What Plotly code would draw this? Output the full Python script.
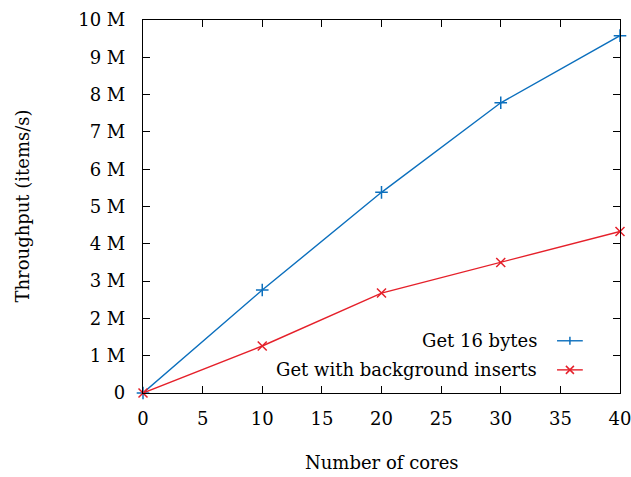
import plotly.graph_objects as go

cores = [0, 10, 20, 30, 40]
get16 = [0, 2.76e6, 5.38e6, 7.78e6, 9.58e6]
get_bg = [0, 1.26e6, 2.68e6, 3.50e6, 4.33e6]
names = ["Get 16 bytes", "Get with background inserts"]
xticks = [0, 5, 10, 15, 20, 25, 30, 35, 40]
yticks = [i * 1e6 for i in range(11)]
yticktext = ["0"] + [f"{i} M" for i in range(1, 11)]

BLUE = "#0b6fbd"
RED = "#e5202a"
FONT = "DejaVu Serif"
FS = 18

PW, PH = 477, 373  # plot area size in px

fig = go.Figure()
fig.add_trace(go.Scatter(x=cores, y=get16, mode="lines+markers", name=names[0],
                         line=dict(color=BLUE, width=1.4),
                         marker=dict(symbol="cross-thin", size=9, line=dict(color=BLUE, width=1.5)),
                         cliponaxis=False, showlegend=False))
fig.add_trace(go.Scatter(x=cores, y=get_bg, mode="lines+markers", name=names[1],
                         line=dict(color=RED, width=1.4),
                         marker=dict(symbol="x-thin", size=9, line=dict(color=RED, width=1.5)),
                         cliponaxis=False, showlegend=False))

# custom legend (text right-aligned, sample on the right, gnuplot style)
rows = [(names[0], BLUE, "+", 0.140), (names[1], RED, "x", 0.062)]
for text, col, sym, yp in rows:
    fig.add_annotation(xref="paper", yref="paper", x=0.830, y=yp, text=text,
                       showarrow=False, xanchor="right", yanchor="middle",
                       font=dict(family=FONT, size=FS, color="black"))
    fig.add_shape(type="line", xref="paper", yref="paper", x0=0.868, x1=0.922, y0=yp, y1=yp,
                  line=dict(color=col, width=1.4))
    cx = 0.895
    dx = 4 / PW
    dy = 4 / PH
    if sym == "+":
        fig.add_shape(type="line", xref="paper", yref="paper", x0=cx, x1=cx, y0=yp - dy, y1=yp + dy,
                      line=dict(color=col, width=1.5))
    else:
        fig.add_shape(type="line", xref="paper", yref="paper", x0=cx - dx, x1=cx + dx, y0=yp - dy, y1=yp + dy,
                      line=dict(color=col, width=1.5))
        fig.add_shape(type="line", xref="paper", yref="paper", x0=cx - dx, x1=cx + dx, y0=yp + dy, y1=yp - dy,
                      line=dict(color=col, width=1.5))

# axis titles
fig.add_annotation(xref="paper", yref="paper", x=0.5, y=-70 / PH, text="Number of cores",
                   showarrow=False, xanchor="center", yanchor="middle",
                   font=dict(family=FONT, size=FS, color="black"))
fig.add_annotation(xref="paper", yref="paper", x=-121 / PW, y=0.5, text="Throughput (items/s)",
                   showarrow=False, xanchor="center", yanchor="middle", textangle=-90,
                   font=dict(family=FONT, size=FS, color="black"))

axis_common = dict(showgrid=False, zeroline=False, showline=True, linecolor="black", linewidth=1.2,
                   mirror="ticks", ticks="inside", ticklen=7, tickwidth=1, tickcolor="black",
                   automargin=False, ticklabeloverflow="allow",
                   tickfont=dict(family=FONT, size=FS, color="black"))

fig.update_xaxes(range=[0, 40], tickvals=xticks, ticklabelstandoff=9, **axis_common)
fig.update_yaxes(range=[0, 10e6], tickvals=yticks, ticktext=yticktext, ticklabelstandoff=13,
                 **axis_common)

fig.update_layout(width=631, height=477, margin=dict(l=143, r=11, t=20, b=84),
                  plot_bgcolor="white", paper_bgcolor="white",
                  font=dict(family=FONT, size=FS, color="black"))

fig.write_html("out.html")
